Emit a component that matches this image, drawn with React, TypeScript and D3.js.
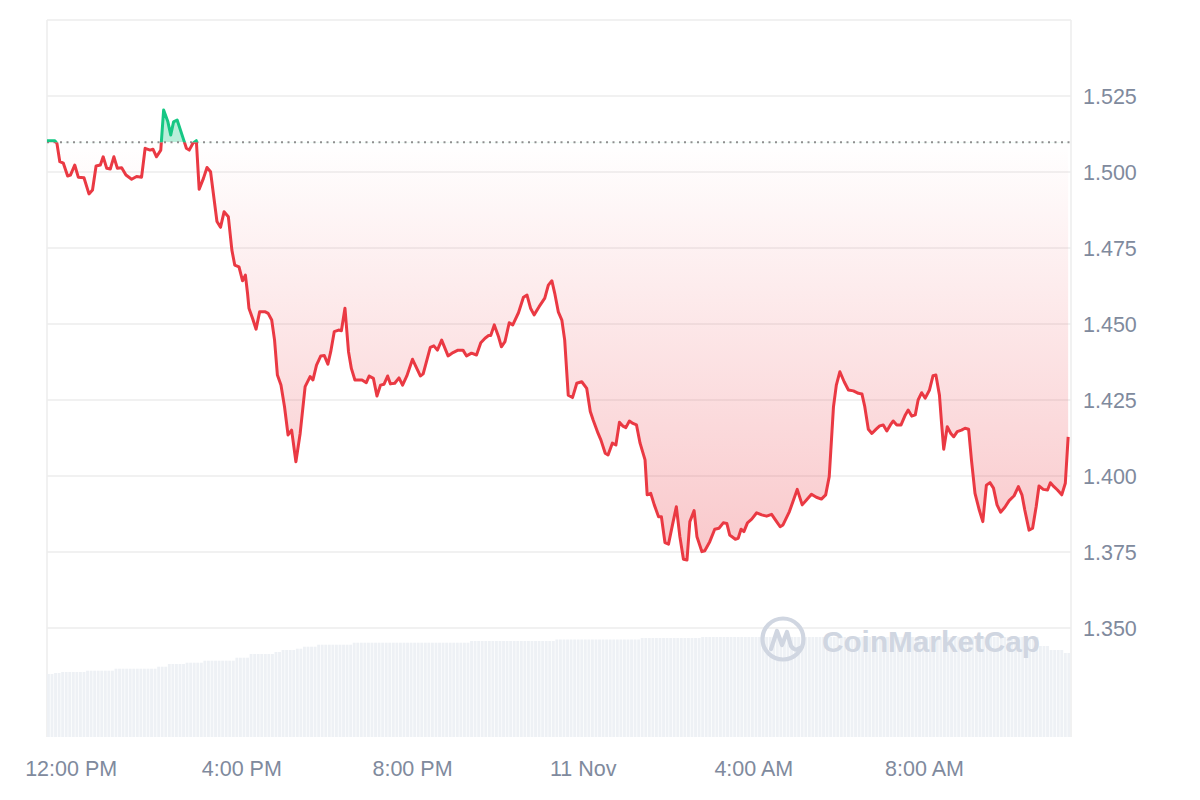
import React from "react";
import * as d3 from "d3";

// ---- data ----
const startTime = new Date(2024, 10, 10, 11, 26);
const endTime = new Date(2024, 10, 11, 11, 26);
const openPrice = 1.5098;

// minutes after startTime
const priceMinutes = [
  0, 11, 14, 18, 23, 29, 33, 39, 44, 52,
  59, 64, 69, 75, 79, 84, 89, 94, 99, 105,
  111, 119, 126, 133, 138, 145, 149, 154, 160, 164,
  170, 174, 178, 183, 193, 196, 200, 205, 210, 214,
  220, 225, 230, 239, 244, 249, 255, 260, 264, 270,
  275, 279, 282, 284, 289, 294, 299, 307, 311, 316,
  320, 324, 329, 334, 339, 344, 350, 356, 363, 370,
  374, 379, 385, 390, 395, 399, 404, 410, 414, 419,
  424, 428, 433, 443, 449, 453, 459, 464, 469, 474,
  479, 483, 489, 495, 500, 506, 514, 525, 529, 539,
  544, 549, 555, 564, 571, 578, 585, 590, 597, 604,
  610, 616, 621, 624, 629, 635, 639, 644, 650, 655,
  663, 670, 675, 680, 685, 692, 700, 705, 710, 714,
  719, 724, 728, 733, 739, 745, 752, 759, 764, 768,
  775, 779, 785, 789, 795, 800, 805, 810, 814, 819,
  824, 829, 834, 841, 844, 849, 854, 860, 864, 869,
  874, 880, 885, 890, 895, 900, 904, 910, 914, 921,
  925, 932, 939, 945, 951, 956, 960, 968, 972, 976,
  980, 985, 991, 998, 1005, 1012, 1019, 1026, 1031, 1035,
  1044, 1050, 1055, 1062, 1068, 1075, 1082, 1089, 1095, 1100,
  1106, 1110, 1115, 1121, 1127, 1134, 1141, 1146, 1150, 1155,
  1160, 1166, 1171, 1176, 1181, 1186, 1190, 1195, 1201, 1207,
  1211, 1216, 1221, 1225, 1230, 1235, 1241, 1246, 1250, 1255,
  1258, 1261, 1266, 1271, 1275, 1280, 1286, 1291, 1296, 1300,
  1305, 1311, 1316, 1321, 1326, 1331, 1336, 1341, 1347, 1353,
  1360, 1366, 1371, 1375, 1381, 1386, 1391, 1395, 1401, 1407,
  1411, 1416, 1421, 1427, 1432, 1436,
];

const priceValues = [
  1.5103, 1.5103, 1.5094, 1.5034, 1.5029, 1.4987, 1.4990, 1.5023, 1.4983, 1.4981,
  1.4928, 1.4941, 1.5020, 1.5023, 1.5050, 1.5012, 1.5010, 1.5050, 1.5012, 1.5014,
  1.4990, 1.4976, 1.4985, 1.4983, 1.5078, 1.5072, 1.5075, 1.5050, 1.5072, 1.5204,
  1.5165, 1.5122, 1.5165, 1.5171, 1.5100, 1.5078, 1.5072, 1.5094, 1.5103, 1.4943,
  1.4979, 1.5015, 1.5001, 1.4837, 1.4818, 1.4869, 1.4853, 1.4743, 1.4694, 1.4688,
  1.4642, 1.4661, 1.4601, 1.4552, 1.4519, 1.4483, 1.4540, 1.4540, 1.4535, 1.4513,
  1.4447, 1.4332, 1.4299, 1.4228, 1.4135, 1.4151, 1.4047, 1.4140, 1.4294, 1.4327,
  1.4316, 1.4365, 1.4395, 1.4396, 1.4368, 1.4409, 1.4475, 1.4480, 1.4478, 1.4552,
  1.4409, 1.4354, 1.4316, 1.4316, 1.4307, 1.4329, 1.4321, 1.4263, 1.4299, 1.4302,
  1.4329, 1.4303, 1.4305, 1.4323, 1.4299, 1.4329, 1.4384, 1.4329, 1.4336, 1.4423,
  1.4428, 1.4414, 1.4447, 1.4395, 1.4406, 1.4414, 1.4414, 1.4395, 1.4404, 1.4398,
  1.4438, 1.4453, 1.4462, 1.4462, 1.4497, 1.4458, 1.4425, 1.4442, 1.4504, 1.4497,
  1.4537, 1.4588, 1.4595, 1.4552, 1.4530, 1.4557, 1.4585, 1.4628, 1.4642, 1.4601,
  1.4540, 1.4513, 1.4447, 1.4266, 1.4258, 1.4305, 1.4310, 1.4288, 1.4212, 1.4184,
  1.4140, 1.4118, 1.4075, 1.4069, 1.4108, 1.4102, 1.4177, 1.4164, 1.4159, 1.4181,
  1.4173, 1.4168, 1.4108, 1.4053, 1.3938, 1.3943, 1.3905, 1.3866, 1.3866, 1.3781,
  1.3776, 1.3844, 1.3899, 1.3800, 1.3726, 1.3724, 1.3850, 1.3886, 1.3800, 1.3751,
  1.3754, 1.3784, 1.3825, 1.3828, 1.3846, 1.3844, 1.3806, 1.3792, 1.3795, 1.3825,
  1.3817, 1.3846, 1.3858, 1.3879, 1.3872, 1.3868, 1.3874, 1.3850, 1.3833, 1.3839,
  1.3883, 1.3923, 1.3956, 1.3905, 1.3921, 1.3940, 1.3930, 1.3924, 1.3938, 1.3998,
  1.4228, 1.4299, 1.4343, 1.4310, 1.4283, 1.4280, 1.4272, 1.4270, 1.4228, 1.4154,
  1.4140, 1.4154, 1.4165, 1.4168, 1.4148, 1.4168, 1.4181, 1.4168, 1.4168, 1.4201,
  1.4217, 1.4197, 1.4201, 1.4250, 1.4274, 1.4256, 1.4283, 1.4330, 1.4332, 1.4266,
  1.4173, 1.4088, 1.4162, 1.4140, 1.4129, 1.4146, 1.4151, 1.4157, 1.4154, 1.4053,
  1.3943, 1.3888, 1.3850, 1.3970, 1.3978, 1.3960, 1.3905, 1.3881, 1.3897, 1.3919,
  1.3935, 1.3965, 1.3938, 1.3888, 1.3822, 1.3828, 1.3899, 1.3967, 1.3956, 1.3954,
  1.3978, 1.3965, 1.3954, 1.3938, 1.3976, 1.4129,
];

// 5-minute volume bars (millions)
const volumeValues = [
  6.3, 6.3, 6.4, 6.4, 6.5, 6.5, 6.5, 6.5, 6.5, 6.5, 6.5, 6.63,
  6.63, 6.63, 6.63, 6.63, 6.63, 6.63, 6.63, 6.83, 6.83, 6.83, 6.83, 6.83,
  6.83, 6.83, 6.83, 6.83, 6.83, 6.83, 6.83, 7.03, 7.03, 7.03, 7.3, 7.3,
  7.3, 7.3, 7.3, 7.43, 7.43, 7.43, 7.43, 7.43, 7.63, 7.63, 7.63, 7.63,
  7.63, 7.63, 7.63, 7.63, 7.63, 7.93, 7.93, 7.93, 7.93, 8.3, 8.3, 8.3,
  8.3, 8.3, 8.3, 8.3, 8.5, 8.5, 8.7, 8.7, 8.7, 8.7, 8.83, 8.83,
  9.03, 9.03, 9.03, 9.03, 9.23, 9.23, 9.23, 9.23, 9.23, 9.23, 9.23, 9.23,
  9.23, 9.23, 9.43, 9.43, 9.43, 9.43, 9.43, 9.43, 9.43, 9.43, 9.43, 9.43,
  9.43, 9.43, 9.43, 9.43, 9.43, 9.43, 9.43, 9.43, 9.43, 9.43, 9.43, 9.43,
  9.43, 9.43, 9.43, 9.43, 9.43, 9.43, 9.43, 9.43, 9.43, 9.43, 9.43, 9.6,
  9.6, 9.6, 9.6, 9.6, 9.6, 9.6, 9.6, 9.6, 9.6, 9.6, 9.6, 9.6,
  9.6, 9.6, 9.6, 9.6, 9.6, 9.6, 9.6, 9.6, 9.6, 9.6, 9.6, 9.75,
  9.75, 9.75, 9.75, 9.75, 9.75, 9.75, 9.75, 9.75, 9.75, 9.75, 9.75, 9.75,
  9.75, 9.75, 9.75, 9.75, 9.75, 9.75, 9.75, 9.75, 9.75, 9.75, 9.75, 9.9,
  9.9, 9.9, 9.9, 9.9, 9.9, 9.9, 9.9, 9.9, 9.9, 9.9, 9.9, 9.9,
  9.9, 9.9, 9.9, 9.9, 10, 10, 10, 10, 10, 10, 10, 10,
  10, 10, 10, 10, 10, 10, 10, 10, 10, 10, 10, 10,
  10, 10, 10, 10, 10, 10, 10, 10, 10, 10, 10, 10,
  10, 10, 10, 10, 10, 10, 10, 10, 10, 10, 10, 10,
  10, 10, 10, 10, 10, 10, 10, 10, 10, 10, 10, 10,
  10, 10, 10, 10, 10, 10, 10, 10, 10, 10, 10, 10,
  10, 10, 10, 10, 10, 10, 10, 10, 10, 10, 10, 10,
  10, 10, 10, 10, 10, 10, 10, 10, 10, 10, 10, 10,
  10, 10, 10, 9.1, 9.1, 9.1, 8.7, 8.7, 8.7, 8.7, 8.4, 8.4,
];

const yTickValues = [1.35, 1.375, 1.4, 1.425, 1.45, 1.475, 1.5, 1.525];
const gridValues = [1.35, 1.375, 1.4, 1.425, 1.45, 1.475, 1.5, 1.525, 1.55];
const xTickTimes = [
  new Date(2024, 10, 10, 12, 0),
  new Date(2024, 10, 10, 16, 0),
  new Date(2024, 10, 10, 20, 0),
  new Date(2024, 10, 11, 0, 0),
  new Date(2024, 10, 11, 4, 0),
  new Date(2024, 10, 11, 8, 0),
];
const xTickLabels = ["12:00 PM", "4:00 PM", "8:00 PM", "11 Nov", "4:00 AM", "8:00 AM"];

const RED = "#EA3943";
const GREEN = "#16C784";
const AXIS_TEXT = "#808A9D";
const GRID = "#EDEDED";
const FONT = "'Liberation Sans', Arial, Helvetica, sans-serif";

export default function App() {
  const W = 1200;
  const H = 800;
  const left = 47;
  const right = 1071;
  const top = 20;
  const bottom = 737;

  const x = d3.scaleTime().domain([startTime, endTime]).range([left, right]);
  const y = d3.scaleLinear().domain([1.35, 1.55]).range([628, top]);
  const yVol = d3.scaleLinear().domain([0, 10]).range([bottom, 637]);

  const n = Math.min(priceMinutes.length, priceValues.length);
  const pts = d3.range(n).map((i) => ({
    t: new Date(+startTime + priceMinutes[i] * 60000),
    v: priceValues[i],
  }));
  const refY = y(openPrice);

  const line = d3
    .line<{ t: Date; v: number }>()
    .x((d) => x(d.t))
    .y((d) => y(d.v));
  const area = d3
    .area<{ t: Date; v: number }>()
    .x((d) => x(d.t))
    .y0(refY)
    .y1((d) => y(d.v));

  const linePath = line(pts) || "";
  const areaPath = area(pts) || "";

  const bars = volumeValues.map((v, i) => {
    const t0 = new Date(+startTime + i * 5 * 60000);
    const t1 = new Date(+startTime + (i + 1) * 5 * 60000);
    const x0 = x(t0);
    const x1 = x(t1);
    return { x: x0, w: Math.max(0.5, x1 - x0 - 0.7), y: yVol(v), h: bottom - yVol(v) };
  });

  const fmt = d3.format(".3f");

  // watermark geometry
  const logoCx = 783;
  const logoCy = 639;

  return (
    <svg
      width={W}
      height={H}
      viewBox={`0 0 ${W} ${H}`}
      style={{ position: "absolute", left: 0, top: 0, background: "#fff" }}
    >
      <defs>
        <clipPath id="clipAbove">
          <rect x={0} y={0} width={W} height={refY} />
        </clipPath>
        <clipPath id="clipBelow">
          <rect x={0} y={refY} width={W} height={H - refY} />
        </clipPath>
        <linearGradient id="redFill" gradientUnits="userSpaceOnUse" x1={0} y1={refY} x2={0} y2={y(1.3724)}>
          <stop offset="0" stopColor={RED} stopOpacity={0.0} />
          <stop offset="1" stopColor={RED} stopOpacity={0.28} />
        </linearGradient>
      </defs>

      {/* gridlines */}
      {gridValues.map((g) => (
        <line key={g} x1={left} x2={right} y1={y(g)} y2={y(g)} stroke={GRID} strokeWidth={1.5} />
      ))}
      {/* borders */}
      <line x1={left} x2={left} y1={y(1.55)} y2={bottom} stroke={GRID} strokeWidth={1.5} />
      <line x1={right} x2={right} y1={y(1.55)} y2={bottom} stroke={GRID} strokeWidth={1.5} />

      {/* volume bars */}
      {bars.map((b, i) => (
        <rect key={i} x={b.x} y={b.y} width={b.w} height={b.h} fill="#EEF1F5" />
      ))}

      {/* watermark */}
      <g opacity={1}>
        <circle cx={logoCx} cy={logoCy} r={20.5} fill="none" stroke="#D0D6E1" strokeWidth={4.2} />
        <path
          d={`M ${logoCx - 12} ${logoCy + 10} L ${logoCx - 6} ${logoCy - 8} L ${logoCx - 1} ${logoCy + 6} L ${logoCx + 4} ${logoCy - 7} L ${logoCx + 8} ${logoCy + 7} Q ${logoCx + 12} ${logoCy + 13} ${logoCx + 17} ${logoCy + 9}`}
          fill="none"
          stroke="#D0D6E1"
          strokeWidth={4.2}
          strokeLinejoin="round"
          strokeLinecap="round"
        />
        <text
          x={822}
          y={652}
          fontFamily={FONT}
          fontWeight={700}
          fontSize={30}
          fill="#D0D6E1"
          textLength={218}
          lengthAdjust="spacingAndGlyphs"
        >
          CoinMarketCap
        </text>
      </g>

      {/* areas */}
      <path d={areaPath} fill="url(#redFill)" clipPath="url(#clipBelow)" />
      <path d={areaPath} fill={GREEN} fillOpacity={0.3} clipPath="url(#clipAbove)" />

      {/* reference dotted line */}
      <line
        x1={left}
        x2={right}
        y1={refY}
        y2={refY}
        stroke="#8F8F8F"
        strokeWidth={2}
        strokeDasharray="2 4.5"
      />

      {/* price line */}
      <path d={linePath} fill="none" stroke={RED} strokeWidth={3} strokeLinejoin="round" clipPath="url(#clipBelow)" />
      <path d={linePath} fill="none" stroke={GREEN} strokeWidth={3} strokeLinejoin="round" clipPath="url(#clipAbove)" />

      {/* y axis labels */}
      {yTickValues.map((v) => (
        <text
          key={v}
          x={1083}
          y={y(v)}
          dy="0.35em"
          fontFamily={FONT}
          fontSize={21.5}
          fill={AXIS_TEXT}
        >
          {fmt(v)}
        </text>
      ))}

      {/* x axis labels */}
      {xTickTimes.map((t, i) => (
        <text
          key={i}
          x={x(t)}
          y={776}
          textAnchor="middle"
          fontFamily={FONT}
          fontSize={21.5}
          fill={AXIS_TEXT}
        >
          {xTickLabels[i]}
        </text>
      ))}
    </svg>
  );
}
